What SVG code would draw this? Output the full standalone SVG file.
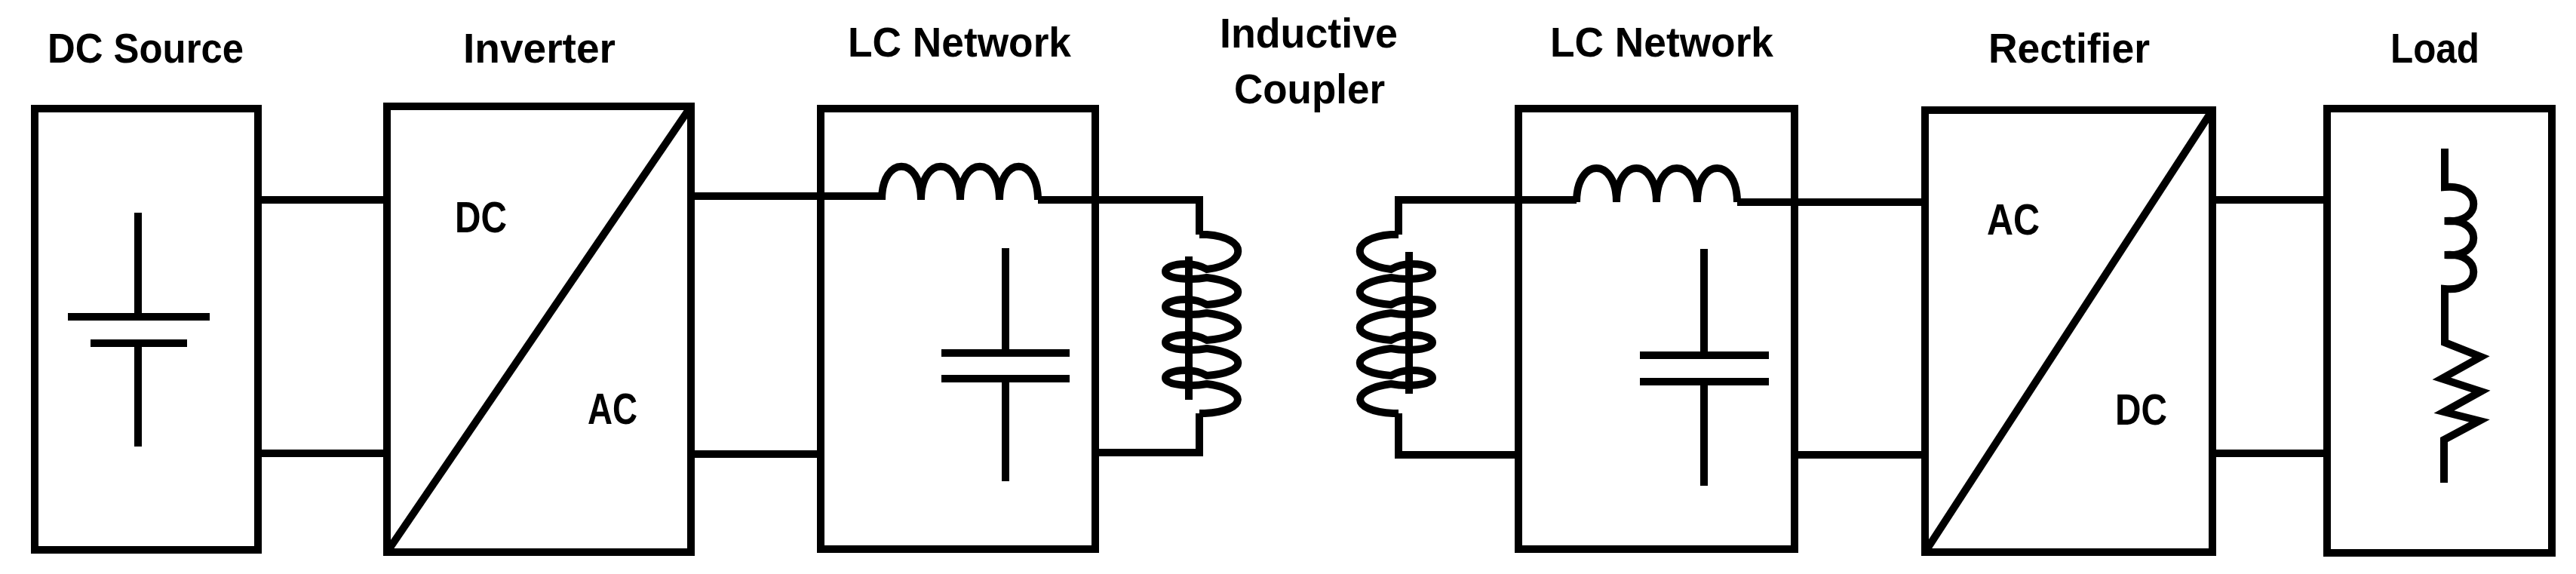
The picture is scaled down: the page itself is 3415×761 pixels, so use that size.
<svg xmlns="http://www.w3.org/2000/svg" width="3415" height="761" viewBox="0 0 3415 761">
<style>
.s{fill:none;stroke:#000;stroke-width:10}
.t{font-family:"Liberation Sans",Arial,sans-serif;font-weight:bold;font-size:56px;text-anchor:middle;fill:#000}
.l{font-family:"Liberation Sans",Arial,sans-serif;font-weight:bold;font-size:58px;fill:#000}
</style>
<rect width="3415" height="761" fill="#fff"/>
<g id="dc-source">
<rect class="s" x="46" y="144" width="296" height="585"/>
<path class="s" d="M183,282V420M90,420H278M120,455H248M183,455V592"/>
<text class="t" x="193" y="83" textLength="260" lengthAdjust="spacingAndGlyphs">DC Source</text>
</g>
<g id="inverter">
<rect class="s" x="513" y="141" width="403" height="591"/>
<path class="s" d="M513,732L916,141"/>
<text class="t" x="715" y="83" textLength="202" lengthAdjust="spacingAndGlyphs">Inverter</text>
<text class="l" x="603" y="308" textLength="69" lengthAdjust="spacingAndGlyphs">DC</text>
<text class="l" x="779" y="562" textLength="66" lengthAdjust="spacingAndGlyphs">AC</text>
</g>
<g id="lc1">
<rect class="s" x="1088" y="144" width="364" height="584"/>
<path class="s" d="M1169,265C1169,206 1221,206 1221,265C1221,206 1273,206 1273,265C1273,206 1325,206 1325,265C1325,206 1376,206 1376,265"/>
<path class="s" d="M1333,329V468M1248,468H1418M1248,502H1418M1333,502V638"/>
<text class="t" x="1272" y="75" textLength="296" lengthAdjust="spacingAndGlyphs">LC Network</text>
</g>
<g id="coupler">
<text class="t" x="1735" y="63" textLength="236" lengthAdjust="spacingAndGlyphs">Inductive</text>
<text class="t" x="1736" y="137" textLength="200" lengthAdjust="spacingAndGlyphs">Coupler</text>
<g id="coil1">
<path class="s" d="M1590,311H1600C1655,315 1655,350 1600,357C1580,345 1545,350 1545,360C1545,370 1580,372 1600,368C1655,375 1655,400 1600,404C1580,392 1545,397 1545,407C1545,417 1580,419 1600,415C1655,422 1655,447 1600,451C1580,439 1545,444 1545,454C1545,464 1580,466 1600,462C1655,469 1655,494 1600,498C1580,486 1545,491 1545,501C1545,511 1580,513 1600,509C1655,516 1655,545 1597,548H1590"/>
<path class="s" d="M1576,340V530"/>
</g>
<g id="coil2" transform="translate(3444,0) scale(-1,1)">
<path class="s" d="M1590,311H1600C1655,315 1655,350 1600,357C1580,345 1545,350 1545,360C1545,370 1580,372 1600,368C1655,375 1655,400 1600,404C1580,392 1545,397 1545,407C1545,417 1580,419 1600,415C1655,422 1655,447 1600,451C1580,439 1545,444 1545,454C1545,464 1580,466 1600,462C1655,469 1655,494 1600,498C1580,486 1545,491 1545,501C1545,511 1580,513 1600,509C1655,516 1655,545 1597,548H1590"/>
<path class="s" d="M1576,334V522"/>
</g>
</g>
<g id="lc2">
<rect class="s" x="2013" y="144" width="366" height="584"/>
<path class="s" d="M2090,268C2090,208 2143,208 2143,268C2143,208 2196,208 2196,268C2196,208 2250,208 2250,268C2250,208 2303,208 2303,268"/>
<path class="s" d="M2259,330V471M2174,471H2345M2174,506H2345M2259,506V644"/>
<text class="t" x="2203" y="75" textLength="296" lengthAdjust="spacingAndGlyphs">LC Network</text>
</g>
<g id="rectifier">
<rect class="s" x="2552" y="146" width="381" height="586"/>
<path class="s" d="M2552,732L2933,146"/>
<text class="t" x="2743" y="83" textLength="214" lengthAdjust="spacingAndGlyphs">Rectifier</text>
<text class="l" x="2634" y="311" textLength="70" lengthAdjust="spacingAndGlyphs">AC</text>
<text class="l" x="2804" y="563" textLength="69" lengthAdjust="spacingAndGlyphs">DC</text>
</g>
<g id="load">
<rect class="s" x="3085" y="144" width="298" height="589"/>
<path class="s" d="M3241,197V248C3292,243 3292,298 3241,293C3292,288 3292,343 3241,338C3292,333 3292,388 3241,383V454L3289,473L3237,502L3289,519L3240,546L3287,558L3240,583V640"/>
<text class="t" x="3228" y="83" textLength="118" lengthAdjust="spacingAndGlyphs">Load</text>
</g>
<g id="connectors">
<path class="s" d="M342,265H513M342,601H513"/>
<path class="s" d="M916,260H1169M916,602H1088"/>
<path class="s" d="M1376,265H1590V311M1590,548V600H1452"/>
<path class="s" d="M1854,311V265H2090M1854,548V603H2013"/>
<path class="s" d="M2303,268H2552M2379,603H2552"/>
<path class="s" d="M2933,265H3085M2933,601H3085"/>
</g>
</svg>
